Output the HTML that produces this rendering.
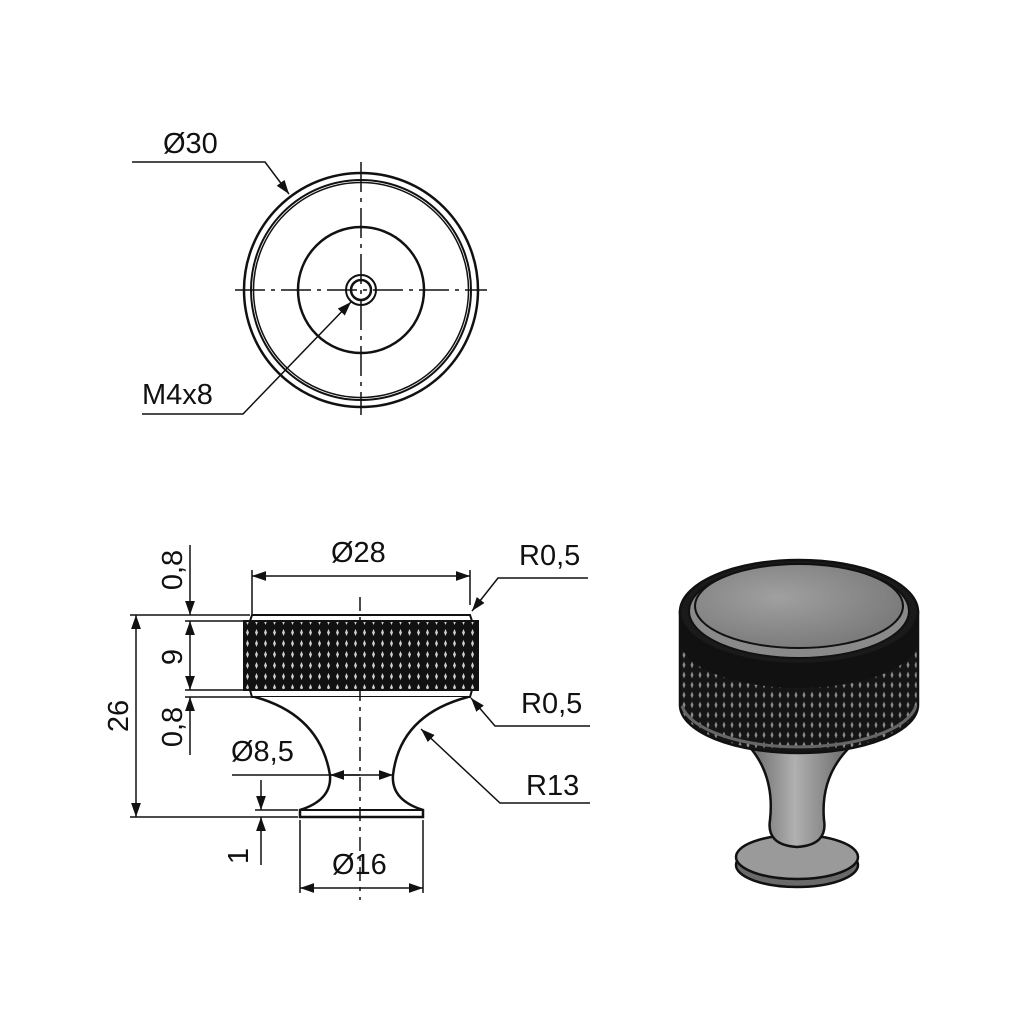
<!DOCTYPE html>
<html><head><style>
html,body{margin:0;padding:0;background:#fff;}
svg{display:block;}
text{font-family:"Liberation Sans",Arial,sans-serif;font-size:29px;fill:#111;}
</style></head><body>
<svg width="1024" height="1024" viewBox="0 0 1024 1024" xmlns="http://www.w3.org/2000/svg">
<defs>
<marker id="a" viewBox="0 0 10 10" refX="10" refY="5" markerWidth="14" markerHeight="14" markerUnits="userSpaceOnUse" orient="auto-start-reverse"><path d="M0,1.5 L10,5 L0,8.5 z" fill="#111"/></marker>
<pattern id="k" width="9" height="11" patternUnits="userSpaceOnUse">
<rect width="9" height="11" fill="#111"/><path d="M4.5,2 L6,5.5 L4.5,9 L3,5.5z" fill="#fff" opacity="0.8"/>
</pattern>
<pattern id="k2" width="8" height="10" patternUnits="userSpaceOnUse">
<rect width="8" height="10" fill="#151515"/><path d="M4,1.5 L5.5,5 L4,8.5 L2.5,5z" fill="#8a8a8a"/>
</pattern>
<radialGradient id="g1" cx="0.4" cy="0.4" r="0.7"><stop offset="0" stop-color="#a0a0a0"/><stop offset="1" stop-color="#767676"/></radialGradient>
<linearGradient id="g2" x1="0" x2="1"><stop offset="0" stop-color="#666"/><stop offset="0.45" stop-color="#b0b0b0"/><stop offset="1" stop-color="#666"/></linearGradient>
</defs>
<g fill="none" stroke="#111" stroke-width="2.5">
<circle cx="361" cy="290" r="117"/>
<circle cx="361" cy="290" r="110" stroke-width="2"/>
<circle cx="361" cy="290" r="107.5" stroke-width="1.5"/>
<circle cx="361" cy="290" r="63"/>
<circle cx="361" cy="290" r="15" stroke-width="2"/>
<circle cx="361" cy="290" r="10"/>
<g stroke-width="1.5" stroke-dasharray="30,6,4,6">
<line x1="235" y1="290" x2="487" y2="290"/>
<line x1="361" y1="162" x2="361" y2="415"/>
</g>
<g stroke-width="1.5">
<polyline points="132,162 265,162 289,194" marker-end="url(#a)"/>
<polyline points="142,414 243,414 351,302" marker-end="url(#a)"/>
</g>
<path d="M252,615 L470,615 L472,621 L250,621 Z" stroke-width="2"/>
<rect x="244" y="621" width="234" height="69" fill="url(#k)" stroke-width="2"/>
<path d="M250,690 L472,690 L470,697 L252,697 Z" stroke-width="2"/>
<path d="M255,697 Q320,715 330,775 Q332,800 300,810 L300,817 L423,817 L423,810 Q391,800 393,775 Q400,715 468,697" stroke-width="2.5" fill="#fff"/>
<line x1="300" y1="810" x2="423" y2="810" stroke-width="2"/>
<g stroke-width="1.5">
<line x1="360" y1="597" x2="360" y2="900" stroke-dasharray="14,6,4,6"/>
<line x1="252" y1="570" x2="252" y2="614"/>
<line x1="470" y1="570" x2="470" y2="605"/>
<line x1="252" y1="576" x2="470" y2="576" marker-start="url(#a)" marker-end="url(#a)"/>
<line x1="130" y1="615" x2="250" y2="615"/>
<line x1="130" y1="817" x2="298" y2="817"/>
<line x1="136" y1="615" x2="136" y2="817" marker-start="url(#a)" marker-end="url(#a)"/>
<line x1="185" y1="621" x2="244" y2="621"/>
<line x1="185" y1="690" x2="244" y2="690"/>
<line x1="185" y1="697" x2="252" y2="697"/>
<line x1="190" y1="545" x2="190" y2="615" marker-end="url(#a)"/>
<line x1="190" y1="621" x2="190" y2="690" marker-start="url(#a)" marker-end="url(#a)"/>
<line x1="190" y1="755" x2="190" y2="697" marker-end="url(#a)"/>
<polyline points="588,578 498,578 472,611" marker-end="url(#a)"/>
<polyline points="590,726 495,726 471,698" marker-end="url(#a)"/>
<polyline points="590,803 500,803 421,729" marker-end="url(#a)"/>
<line x1="232" y1="775" x2="360" y2="775"/>
<line x1="360" y1="775" x2="330" y2="775" marker-end="url(#a)"/>
<line x1="360" y1="775" x2="393" y2="775" marker-end="url(#a)"/>
<line x1="255" y1="810" x2="298" y2="810"/>
<line x1="261" y1="780" x2="261" y2="810" marker-end="url(#a)"/>
<line x1="261" y1="865" x2="261" y2="817" marker-end="url(#a)"/>
<line x1="300" y1="820" x2="300" y2="893"/>
<line x1="423" y1="820" x2="423" y2="893"/>
<line x1="300" y1="888" x2="423" y2="888" marker-start="url(#a)" marker-end="url(#a)"/>
</g>
</g>
<!-- 3D view -->
<g stroke="#111" stroke-width="2.5">
<ellipse cx="797" cy="865" rx="61" ry="22" fill="#6a6a6a"/>
<ellipse cx="797" cy="857" rx="61" ry="22" fill="#9a9a9a"/>
<path d="M748,745 Q775,775 770,820 Q766,845 797,847 Q828,845 824,820 Q820,775 852,745 Z" fill="url(#g2)"/>
<path d="M680,612 L680,705 A119,48 0 0 0 918,705 L918,612 Z" fill="url(#k2)"/>
<path d="M680,612 L680,640 A119,48 0 0 0 918,640 L918,612 Z" fill="#111" stroke="none"/>
<path d="M682,706 A118,47 0 0 0 916,706" fill="none" stroke="#666" stroke-width="3"/>
<ellipse cx="799" cy="612" rx="119" ry="52" fill="#1a1a1a"/>
<ellipse cx="799" cy="611" rx="110" ry="47" fill="#8a8a8a" stroke-width="2"/>
<ellipse cx="799" cy="606" rx="104" ry="42" fill="url(#g1)" stroke-width="2"/>
</g>
<text x="163" y="153">Ø30</text>
<text x="142" y="404">M4x8</text>
<text x="331" y="562">Ø28</text>
<text x="519" y="565">R0,5</text>
<text x="521" y="713">R0,5</text>
<text x="526" y="795">R13</text>
<text x="231" y="761">Ø8,5</text>
<text x="332" y="874">Ø16</text>
<text transform="translate(182,570) rotate(-90)" text-anchor="middle">0,8</text>
<text transform="translate(182,657) rotate(-90)" text-anchor="middle">9</text>
<text transform="translate(182,727) rotate(-90)" text-anchor="middle">0,8</text>
<text transform="translate(128,716) rotate(-90)" text-anchor="middle">26</text>
<text transform="translate(248,856) rotate(-90)" text-anchor="middle">1</text>
</svg>
</body></html>
